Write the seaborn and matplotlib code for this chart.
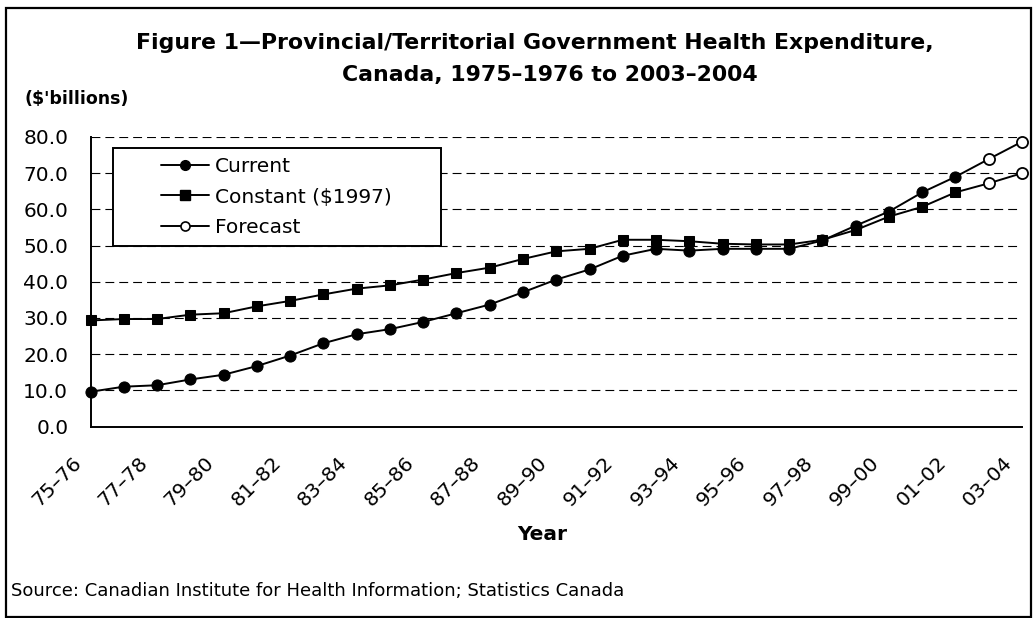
import matplotlib
matplotlib.use("Agg")
import matplotlib.pyplot as plt
import matplotlib.transforms as mtransforms
import seaborn as sns
from matplotlib.lines import Line2D
from matplotlib.patches import Rectangle

# ---------------- data ----------------
years = ["75–76", "76–77", "77–78", "78–79", "79–80", "80–81", "81–82", "82–83",
         "83–84", "84–85", "85–86", "86–87", "87–88", "88–89", "89–90", "90–91",
         "91–92", "92–93", "93–94", "94–95", "95–96", "96–97", "97–98", "98–99",
         "99–00", "00–01", "01–02", "02–03", "03–04"]
current = [9.6, 11.0, 11.4, 13.0, 14.3, 16.7, 19.6, 23.0, 25.5,
           26.9, 28.9, 31.3, 33.7, 37.1, 40.6, 43.4, 47.2, 49.1,
           48.6, 49.1, 49.1, 49.1, 51.4, 55.5, 59.4, 64.7, 69.0]
constant = [29.3, 29.7, 29.7, 30.9, 31.3, 33.2, 34.7, 36.5, 38.1,
            39.0, 40.6, 42.4, 43.9, 46.3, 48.4, 49.1, 51.6, 51.6,
            51.2, 50.5, 50.3, 50.3, 51.6, 54.3, 58.0, 60.7, 64.7]
forecast_current = [73.9, 78.7]
forecast_constant = [67.2, 70.0]
y_ticks = [0, 10, 20, 30, 40, 50, 60, 70, 80]
series_names = ["Current", "Constant ($1997)", "Forecast"]
title_line1 = "Figure 1—Provincial/Territorial Government Health Expenditure,"
title_line2 = "Canada, 1975–1976 to 2003–2004"

# ---------------- style ----------------
sns.set_theme(style="white")
plt.rcParams["font.family"] = ["DejaVu Sans"]
for k in ("text.color", "axes.labelcolor", "xtick.color", "ytick.color", "axes.edgecolor"):
    plt.rcParams[k] = "black"

W, H = 1036, 618
fig = plt.figure(figsize=(W / 100, H / 100), dpi=100)
fig.patch.set_facecolor("white")

def fx(px):
    return px / W

def fy(py):
    return 1 - py / H

ax_left, ax_right, ax_top, ax_bot = 90.5, 1022, 137, 426.5
ax = fig.add_axes([fx(ax_left), fy(ax_bot), fx(ax_right - ax_left), (ax_bot - ax_top) / H])
ax.set_facecolor("white")

lw = 1.4
ms = 7.5
x_act = list(range(len(current)))
x_fc = [len(current) - 1] + list(range(len(current), len(years)))

sns.lineplot(x=x_act, y=constant, ax=ax, color="black", linewidth=lw, marker="s",
             markersize=ms - 0.3, markerfacecolor="black", markeredgecolor="black",
             clip_on=False, zorder=3, legend=False)
sns.lineplot(x=x_act, y=current, ax=ax, color="black", linewidth=lw, marker="o",
             markersize=ms + 0.5, markerfacecolor="black", markeredgecolor="black",
             clip_on=False, zorder=4, legend=False)
for fc, base in ((forecast_current, current), (forecast_constant, constant)):
    sns.lineplot(x=x_fc, y=[base[-1]] + fc, ax=ax, color="black", linewidth=lw,
                 marker="o", markevery=list(range(1, len(x_fc))), markersize=ms + 0.5,
                 markerfacecolor="white", markeredgecolor="black", markeredgewidth=1.3,
                 clip_on=False, zorder=5, legend=False)

ax.set_xlim(0, len(years) - 1)
ax.set_ylim(0, 80)
ax.set_yticks(y_ticks)
ax.set_yticklabels([f"{v:.1f}" for v in y_ticks], fontsize=14.5)
ax.set_xticks(range(len(years)))
ax.set_xticklabels([lab if i % 2 == 0 else "" for i, lab in enumerate(years)],
                   rotation=45, ha="right", rotation_mode="anchor", fontsize=14.5)
ax.tick_params(axis="both", direction="inout", length=10, width=1.1, color="black")
ax.tick_params(axis="y", pad=11)
ax.tick_params(axis="x", pad=9)
offset = mtransforms.ScaledTranslation(-19 / 100, -7 / 100, fig.dpi_scale_trans)
for lab in ax.get_xticklabels():
    lab.set_transform(lab.get_transform() + offset)
ax.set_xlabel("")
ax.set_ylabel("")

for v in y_ticks[1:]:
    ax.axhline(v, color="black", linewidth=0.8, linestyle=(0, (8, 4.5)), zorder=1)

for s in ("top", "right"):
    ax.spines[s].set_visible(False)
for s in ("left", "bottom"):
    ax.spines[s].set_color("black")
    ax.spines[s].set_linewidth(1.4)
ax.grid(False)

# legend
handles = [
    Line2D([0], [0], color="black", lw=lw, marker="o", markersize=ms - 0.5,
           markerfacecolor="black", markeredgecolor="black"),
    Line2D([0], [0], color="black", lw=lw, marker="s", markersize=ms - 1,
           markerfacecolor="black", markeredgecolor="black"),
    Line2D([0], [0], color="black", lw=lw, marker="o", markersize=ms - 1,
           markerfacecolor="white", markeredgecolor="black", markeredgewidth=1.2),
]
leg = fig.legend(handles, series_names, loc="center left",
                 bbox_to_anchor=(fx(161), fy(197)), frameon=False, fontsize=14.5,
                 handlelength=2.4, handletextpad=0.3, labelspacing=0.55,
                 borderpad=0, borderaxespad=0)
fig.patches.append(Rectangle((fx(112.7), fy(246)), fx(440.7 - 112.7), (246 - 148.3) / H,
                             transform=fig.transFigure, fill=True, facecolor="white",
                             edgecolor="black", linewidth=1.4, zorder=2))
leg.set_zorder(6)

# texts
fig.text(fx(535), fy(43), title_line1, ha="center", va="center", fontsize=15.8,
         fontweight="bold")
fig.text(fx(550), fy(75.5), title_line2, ha="center", va="center", fontsize=15.8,
         fontweight="bold")
fig.text(fx(24), fy(99), "($'billions)", ha="left", va="center", fontsize=12.5,
         fontweight="bold")
fig.text(fx(542), fy(535), "Year", ha="center", va="center", fontsize=14.5,
         fontweight="bold")
fig.text(fx(11), fy(591), "Source: Canadian Institute for Health Information; Statistics Canada",
         ha="left", va="center", fontsize=13)

# outer frame
fig.patches.append(Rectangle((fx(5.5), fy(616.5)), fx(1030.5 - 5.5), (616.5 - 7.5) / H,
                             transform=fig.transFigure, fill=False,
                             edgecolor="black", linewidth=1.6))

fig.savefig("out.png", dpi=100, facecolor="white")
